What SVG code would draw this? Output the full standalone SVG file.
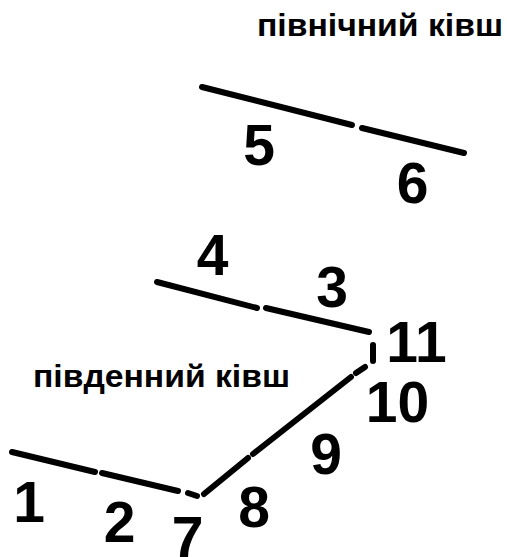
<svg xmlns="http://www.w3.org/2000/svg" width="507" height="557" viewBox="0 0 507 557">
<style>
.seg{stroke:#000;stroke-width:6;stroke-linecap:round;fill:none}
.num{font-family:"Liberation Sans",Arial,sans-serif;font-weight:bold;font-size:57px;fill:#000;text-anchor:middle}
.cap{font-family:"Liberation Sans",Arial,sans-serif;font-weight:bold;font-size:31px;fill:#000}
</style>
<rect width="507" height="557" fill="#fff"/>
<g id="connectors">
<line class="seg" x1="202" y1="87" x2="352" y2="125"/>
<line class="seg" x1="362" y1="128" x2="464" y2="153"/>
<line class="seg" x1="157" y1="282" x2="257" y2="308"/>
<line class="seg" x1="266" y1="308" x2="369" y2="332"/>
<line class="seg" x1="373" y1="345" x2="373" y2="361"/>
<line class="seg" x1="365" y1="367" x2="356" y2="373"/>
<line class="seg" x1="351" y1="377" x2="253" y2="454"/>
<line class="seg" x1="248" y1="458" x2="204" y2="494"/>
<line class="seg" x1="188" y1="493" x2="197" y2="496"/>
<line class="seg" x1="12" y1="452" x2="95" y2="472"/>
<line class="seg" x1="102" y1="473" x2="178" y2="491"/>
</g>
<g id="title-north"><text class="cap" x="257" y="36" textLength="246" lengthAdjust="spacingAndGlyphs">північний ківш</text></g>
<g id="title-south"><text class="cap" x="33" y="387" textLength="257" lengthAdjust="spacingAndGlyphs">південний ківш</text></g>
<g id="n1"><text class="num" x="29" y="522">1</text></g>
<g id="n2"><text class="num" x="119.5" y="542">2</text></g>
<g id="n3"><text class="num" x="332" y="307">3</text></g>
<g id="n4"><text class="num" x="212.5" y="275">4</text></g>
<g id="n5"><text class="num" x="259" y="165">5</text></g>
<g id="n6"><text class="num" x="412.5" y="203">6</text></g>
<g id="n7"><text class="num" x="187.5" y="557">7</text></g>
<g id="n8"><text class="num" x="254" y="527">8</text></g>
<g id="n9"><text class="num" x="326" y="474">9</text></g>
<g id="n10"><text class="num" x="397.5" y="422">10</text></g>
<g id="n11"><text class="num" x="416.5" y="362">11</text></g>
</svg>
